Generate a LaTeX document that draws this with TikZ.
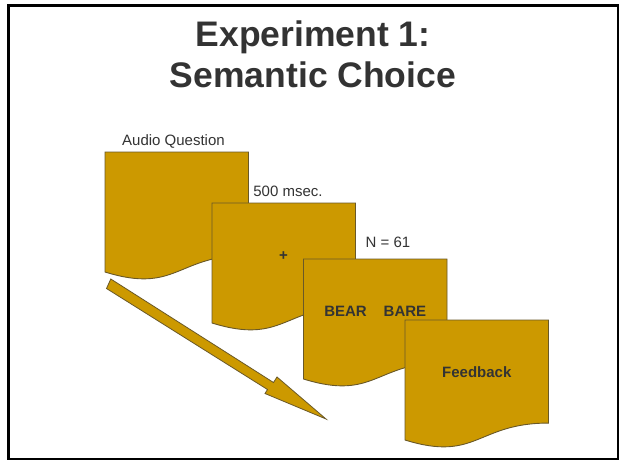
\documentclass[tikz,border=0pt]{standalone}
\usepackage{fontspec}
\setmainfont{Liberation Sans}
\definecolor{gold}{RGB}{204,153,0}
\definecolor{edgec}{RGB}{105,88,40}
\definecolor{ink}{RGB}{51,51,51}
\newcommand{\docshape}[1]{%
  \begin{scope}[shift={#1}]
    \draw[docstyle] (0,0) -- (143.5,0) -- (143.5,103.06)
      .. controls (71.75,103.06) and (71.75,142.3) .. (0,120.0) -- cycle;
  \end{scope}}
\tikzset{
  docstyle/.style={fill=gold, draw=edgec, line width=0.9pt},
  lbl/.style={text=ink, inner sep=0pt, anchor=base, font=\fontsize{15}{18}\selectfont},
  blbl/.style={lbl, font=\fontsize{15}{18}\selectfont\bfseries},
  titlestyle/.style={text=ink, inner sep=0pt, anchor=base, font=\fontsize{35.5}{40}\selectfont\bfseries},
}
\begin{document}
\begin{tikzpicture}[x=1pt,y=-1pt]
\useasboundingbox (0,0) rectangle (626,461);
\fill[white] (0,0) rectangle (626,461);
\draw[black, line width=2.5pt] (8.5,5.5) rectangle (618,459);
\node[titlestyle] (t1) at (313,46) {Experiment 1:};
\node[titlestyle] (t2) at (313,87) {Semantic Choice};
\docshape{(105,152)}
\docshape{(212,203)}
\docshape{(303.5,259)}
\docshape{(405,320)}
\node[lbl] (aq) at (173.5,145) {Audio Question};
\node[lbl] (ms) at (288,196) {500 msec.};
\node[lbl] (n61) at (388,247) {N = 61};
\node[blbl, anchor=center] (plus) at (283.5,256) {+};
\node[blbl] (bb) at (375.25,316) {BEAR\hspace{17pt}BARE};
\node[blbl] (fb) at (476.75,377) {Feedback};
\draw[docstyle, line width=0.8pt, line join=miter] (110.8,279) -- (273.5,382.5) -- (277,377) -- (326,419)
  -- (265,393.5) -- (267.5,389.5) -- (106.5,288.5) -- cycle;
\end{tikzpicture}
\end{document}
